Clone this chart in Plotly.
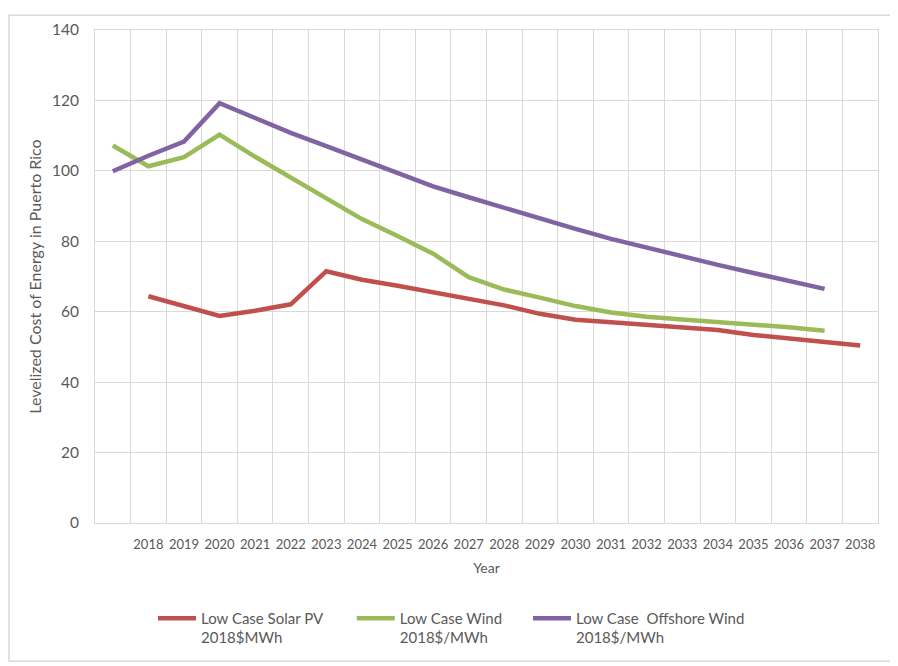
import plotly.graph_objects as go

years = list(range(2017, 2039))
tick_years = list(range(2018, 2039))
tick_labels = [str(y) for y in tick_years]

solar_pv = [None, 64.4, 61.6, 58.8, 60.3, 62.1, 71.5, 69.1, 67.4, 65.6, 63.7, 61.8,
            59.4, 57.7, 57.0, 56.2, 55.6, 54.8, 53.4, 52.5, 51.5, 50.4]
wind = [107.2, 101.3, 103.9, 110.3, 104.0, 98.0, 92.0, 86.3, 81.5, 76.5, 69.8, 66.3,
        64.0, 61.6, 59.8, 58.6, 57.8, 57.1, 56.4, 55.6, 54.6, None]
offshore = [99.9, 104.3, 108.3, 119.2, 115.0, 110.8, 107.0, 103.1, 99.4, 95.6, 92.5, 89.4,
            86.4, 83.5, 80.7, 78.2, 75.6, 73.3, 71.0, 68.7, 66.5, None]

names = ["Low Case Solar PV<br>2018$MWh",
         "Low Case Wind<br>2018$/MWh",
         "Low Case  Offshore Wind<br>2018$/MWh"]
colors = ["#C0504D", "#9BBB59", "#8064A2"]
legend_ids = ["legend", "legend2", "legend3"]
legend_x = [0.0741, 0.328, 0.553]

FONT = "Lato, 'Open Sans', sans-serif"
GRID = "#D9D9D9"
TXT = "#595959"

fig = go.Figure()
for vals, nm, col, lg in zip([solar_pv, wind, offshore], names, colors, legend_ids):
    fig.add_trace(go.Scatter(x=years, y=vals, name=nm, mode="lines",
                             line=dict(color=col, width=4.5),
                             connectgaps=False, legend=lg))

legend_style = dict(orientation="h", y=-0.160, xanchor="left", yanchor="top",
                    valign="top", font=dict(size=15, color=TXT, family=FONT),
                    itemwidth=38, bgcolor="rgba(0,0,0,0)")

fig.update_layout(
    width=898, height=666,
    margin=dict(l=87, r=28, t=16, b=151),
    paper_bgcolor="white", plot_bgcolor="white",
    font=dict(family=FONT, color=TXT, size=13),
    showlegend=True,
    legend=dict(x=legend_x[0], **legend_style),
    legend2=dict(x=legend_x[1], **legend_style),
    legend3=dict(x=legend_x[2], **legend_style),
    xaxis=dict(range=[2016.5, 2038.5], tickmode="array", tickvals=tick_years,
               ticktext=tick_labels, showgrid=False, zeroline=False,
               showline=True, linecolor=GRID, linewidth=1, mirror=True,
               ticks="", ticklabelstandoff=9, tickfont=dict(size=13, color=TXT),
               title=dict(text="Year", font=dict(size=14, color=TXT), standoff=12),
               minor=dict(tickvals=[y - 0.5 for y in years] + [2038.5],
                          showgrid=True, gridcolor=GRID, gridwidth=1, ticks="")),
    yaxis=dict(range=[0, 140], dtick=20, showgrid=True, gridcolor=GRID, gridwidth=1,
               zeroline=False, showline=True, linecolor=GRID, linewidth=1, mirror=True,
               ticks="", ticklabelstandoff=12, tickfont=dict(size=15.5, color=TXT),
               title=dict(text="Levelized Cost of Energy in Puerto Rico",
                          font=dict(size=16, color=TXT), standoff=6)),
)

fig.add_shape(type="rect", xref="paper", yref="paper",
              x0=-0.1098, x1=1.0217, y0=-0.2806, y1=1.030,
              line=dict(color=GRID, width=1.5), fillcolor="rgba(0,0,0,0)", layer="below")

fig.write_html("out.html")
